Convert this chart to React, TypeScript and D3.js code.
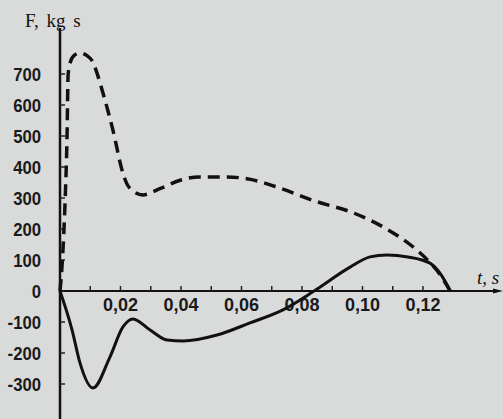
import React from "react";
import * as d3 from "d3";

const W = 503;
const H = 419;

// Dashed curve (t in s, F in kg s)
const dashedT = [0, 0.0008, 0.0017, 0.0023, 0.0027, 0.0034, 0.0045, 0.0066, 0.0088, 0.0109, 0.0124, 0.0142, 0.0175, 0.0208, 0.022, 0.0238, 0.0274, 0.033, 0.04, 0.046, 0.055, 0.063, 0.0727, 0.0837, 0.0975, 0.108, 0.1157, 0.1213, 0.1255, 0.129];
const dashedF = [0, 100, 294, 487, 700, 738, 758, 768, 760, 738, 698, 639, 519, 380, 348, 325, 310, 330, 358, 368, 368, 360, 332, 292, 250, 200, 150, 102, 55, 0];

// Solid curve
const solidT = [0, 0.004, 0.0066, 0.0109, 0.0165, 0.0208, 0.0241, 0.0298, 0.0354, 0.0407, 0.0519, 0.0628, 0.0737, 0.084, 0.0959, 0.1025, 0.108, 0.115, 0.1223, 0.126, 0.129];
const solidF = [0, -126, -232, -313, -213, -116, -90, -126, -158, -161, -142, -103, -61, 0, 77, 110, 116, 110, 90, 52, 0];

const yTicks = [700, 600, 500, 400, 300, 200, 100, 0, -100, -200, -300];
const xTickLabels = [0.02, 0.04, 0.06, 0.08, 0.1, 0.12];
const xMinorTicks = [0.01, 0.02, 0.03, 0.04, 0.05, 0.06, 0.07, 0.08, 0.09, 0.1, 0.11, 0.12];

const fmtX = (v: number) => v.toFixed(2).replace(".", ",");

export default function App() {
  const x = d3.scaleLinear().domain([0, 0.12]).range([60, 423]);
  const y = d3.scaleLinear().domain([0, 700]).range([291, 74]);

  const line = d3
    .line<[number, number]>()
    .x((d) => x(d[0]))
    .y((d) => y(d[1]))
    .curve(d3.curveMonotoneX);

  const dashedPath = line(dashedT.map((t, i) => [t, dashedF[i]] as [number, number])) || "";
  const solidPath = line(solidT.map((t, i) => [t, solidF[i]] as [number, number])) || "";

  const labelFont = "'Liberation Sans', Arial, sans-serif";
  const sx = 0.88;

  return (
    <svg width={W} height={H} style={{ position: "absolute", left: 0, top: 0, display: "block" }}>
      <rect x={0} y={0} width={W} height={H} fill="#d9dbda" />
      {/* y axis */}
      <line x1={60} x2={60} y1={28} y2={H} stroke="#111" strokeWidth={2.5} />
      {/* x axis */}
      <line x1={60} x2={498} y1={y(0)} y2={y(0)} stroke="#111" strokeWidth={2} />
      <path d={`M503,${y(0)} L493,${y(0) - 2.5} L493,${y(0) + 2.5} Z`} fill="#111" />
      {/* y ticks */}
      {yTicks.map((v) => (
        <g key={"y" + v}>
          <line x1={60} x2={65} y1={y(v)} y2={y(v)} stroke="#222" strokeWidth={1.5} />
          <text
            transform={`translate(41,${y(v)}) scale(${sx},1)`}
            dy="0.36em"
            textAnchor="end"
            fontFamily={labelFont}
            fontWeight="bold"
            fontSize={19}
            fill="#1a1a1a"
          >
            {v}
          </text>
        </g>
      ))}
      {/* x ticks */}
      {xMinorTicks.map((v) => (
        <line key={"xt" + v} x1={x(v)} x2={x(v)} y1={y(0) - 5} y2={y(0)} stroke="#222" strokeWidth={1.5} />
      ))}
      {xTickLabels.map((v) => (
        <text
          key={"xl" + v}
          transform={`translate(${x(v)},311) scale(0.95,1)`}
          textAnchor="middle"
          fontFamily={labelFont}
          fontWeight="bold"
          fontSize={19}
          fill="#1a1a1a"
        >
          {fmtX(v)}
        </text>
      ))}
      {/* curves */}
      <path d={dashedPath} fill="none" stroke="#111" strokeWidth={3.5} strokeDasharray="12 7" />
      <path d={solidPath} fill="none" stroke="#111" strokeWidth={3} />
      {/* axis titles */}
      <text x={25} y={27} fontFamily="'Liberation Serif', 'Times New Roman', serif" fontSize={19} wordSpacing={3} fill="#111">
        F, kg s
      </text>
      <text x={477} y={284} fontFamily="'Liberation Serif', 'Times New Roman', serif" fontStyle="italic" fontSize={19} fill="#111">
        t, s
      </text>
    </svg>
  );
}
